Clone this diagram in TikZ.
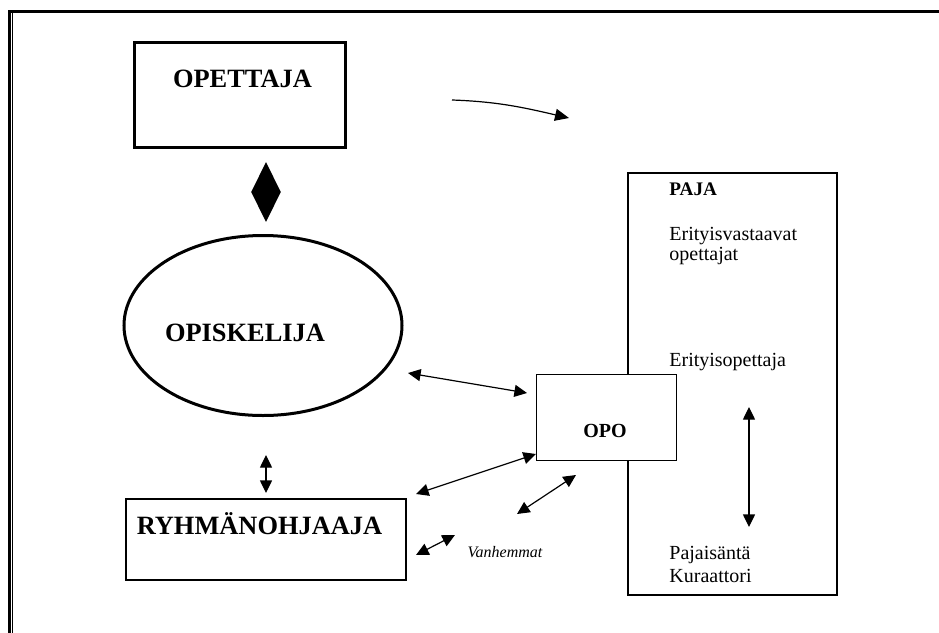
\documentclass[tikz,border=0pt]{standalone}
\usepackage{fontspec}
\setmainfont{Liberation Serif}
\usetikzlibrary{shapes.geometric,arrows.meta}

\begin{document}
\begin{tikzpicture}[x=0.5pt,y=0.5pt]
            \tikzstyle{every node}+=[inner sep=0pt]
            \tikzstyle{bigbox}=[draw, line width=1.5pt]
            \tikzstyle{thinbox}=[draw, line width=0.75pt]
            \tikzstyle{bigtxt}=[font=\fontsize{13.2}{15}\selectfont\bfseries, anchor=base]
            \tikzstyle{smalltxt}=[font=\fontsize{10}{11.4}\selectfont, anchor=base west, align=left]
            \tikzstyle{dbl}=[{Triangle[length=6.3pt,width=6pt]}-{Triangle[length=6.3pt,width=6pt]}, line width=0.6pt]
            \useasboundingbox (0,0) rectangle (939,-633);
            % frame
            \draw [line width=1.5pt] (8,-11.5) -- (939,-11.5);
            \draw [line width=1.2pt] (9.3,-10) -- (9.3,-633);
            \draw [line width=0.5pt] (12.2,-13) -- (12.2,-633);
            % left column
            \node [bigbox, minimum width=105.5pt, minimum height=52.5pt] (opettaja) at (239.7,-95) {};
            \node [bigtxt] (opettajatxt) at (242.5,-87) {OPETTAJA};
            \node [diamond, fill=black, minimum width=15pt, minimum height=30pt] (vali) at (266,-192) {};
            \node [ellipse, bigbox, minimum width=139pt, minimum height=90pt] (opiskelija) at (263,-325.5) {};
            \node [bigtxt] (opiskelijatxt) at (245,-341) {OPISKELIJA};
            \node [thinbox, minimum width=140pt, minimum height=40.5pt] (ryhma) at (266,-539.5) {};
            \node [bigtxt] (ryhmatxt) at (259.5,-534) {RYHMÄNOHJAAJA};
            % paja and opo
            \node [thinbox, minimum width=104.5pt, minimum height=211pt] (paja) at (732.5,-384) {};
            \node [smalltxt, font=\fontsize{9.6}{11}\selectfont\bfseries] (pajatxt) at (669,-195) {PAJA};
            \node [smalltxt, font=\fontsize{10}{8.7}\selectfont] (erityisv) at (669,-260) {Erityisvastaavat\\opettajat};
            \node [smalltxt] (erityiso) at (669,-366) {Erityisopettaja};
            \node [smalltxt] (isanta) at (669,-582) {Pajaisäntä\\Kuraattori};
            \node [thinbox, fill=white, minimum width=70pt, minimum height=43pt] (opo) at (606.5,-417.5) {};
            \node [font=\fontsize{10}{12}\selectfont\bfseries, anchor=base] (opotxt) at (605,-437) {OPO};
            \node [font=\fontsize{8}{9}\selectfont\itshape, anchor=base] (vanhemmat) at (505,-557) {Vanhemmat};
            % arrow ends
            \coordinate (k1) at (452,-100);
            \coordinate (k2) at (569,-118);
            \coordinate (e1) at (408,-373);
            \coordinate (o1) at (527,-393);
            \coordinate (o2) at (536,-454);
            \coordinate (r1) at (416,-494);
            \coordinate (o3) at (576,-475);
            \coordinate (v1) at (517,-514);
            \coordinate (v2) at (455,-535);
            \coordinate (r2) at (416,-555);
            \coordinate (e2) at (266,-455);
            \coordinate (r3) at (266,-493);
            \coordinate (p1) at (749,-407);
            \coordinate (p2) at (749,-527);
            % arrows
            \draw [line width=0.6pt, -{Triangle[length=7pt,width=6pt]}] (k1) to [out=-2, in=167] (k2);
            \draw [dbl] (e1) -- (o1);
            \draw [dbl] (o2) -- (r1);
            \draw [dbl] (o3) -- (v1);
            \draw [dbl] (v2) -- (r2);
            \draw [dbl] (e2) -- (r3);
            \draw [dbl] (p1) -- (p2);
        \end{tikzpicture}
\end{document}
